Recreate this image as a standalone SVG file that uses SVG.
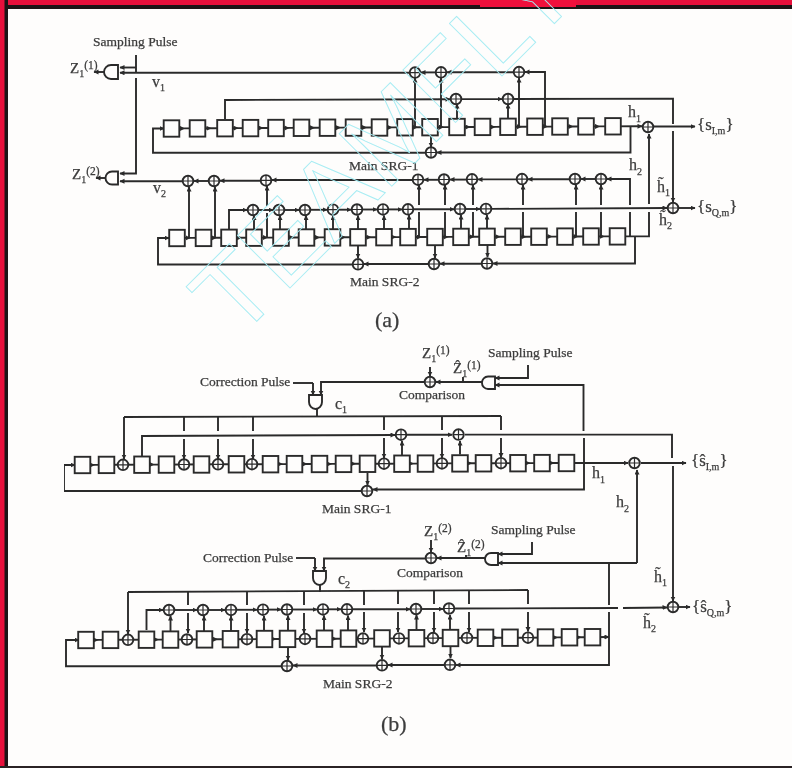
<svg xmlns="http://www.w3.org/2000/svg" width="792" height="768" viewBox="0 0 792 768">
<style>
.l{fill:none;stroke:#2c2c2c;stroke-width:1.9;stroke-linejoin:miter}
.a{marker-end:url(#ah)}
.r{marker-mid:url(#ah);marker-end:url(#ah)}
.b{fill:#fefdfc;stroke:#2c2c2c;stroke-width:1.9}
.t{font-family:"Liberation Serif","Times New Roman",serif;font-size:13.5px;fill:#3c3c3c;stroke:#3c3c3c;stroke-width:.25}
.h{font-size:16px}
.z{font-size:15px}
.o{font-size:17px}
.c{font-size:22px}
.s{font-size:10px}
.p{font-size:11.5px}
.w{font-family:"Liberation Sans",Arial,sans-serif;font-size:108px;fill:none;stroke:#a5ecf3;stroke-width:.9}
</style>
<defs>
<filter id="soft" x="0" y="0" width="100%" height="100%"><feGaussianBlur stdDeviation="0.4"/></filter>
<marker id="ah" markerUnits="userSpaceOnUse" markerWidth="6" markerHeight="6" refX="4.5" refY="2.5" orient="auto"><path d="M0,0L5,2.5L0,5z" fill="#2c2c2c"/></marker>
<rect id="bx" x="-7.8" y="-8.2" width="15.6" height="16.4" class="b"/>
<g id="xr"><circle r="5.3" class="b"/><path d="M-5.3,0H5.3M0,-5.3V5.3" class="l" style="stroke-width:1.2"/></g>
</defs>
<g id="frame">
<rect width="792" height="768" fill="#fefdfc"/>
<rect x="0" y="0" width="792" height="9" fill="#1d1416"/>
<rect x="0" y="0" width="792" height="5" fill="#e8103c"/>
<rect x="480" y="0" width="96" height="7" fill="#f0103c"/>
<rect x="0" y="0" width="8" height="768" fill="#1d1416"/>
<rect x="0" y="0" width="4.500" height="768" fill="#e8103c"/>
<rect x="0" y="766" width="792" height="2" fill="#2a2224"/>
</g>
<g filter="url(#soft)">
<g id="connectors" class="l">
<path class="l" d="M136,55V72"/>
<path class="l a" d="M136,67.500H120"/>
<path class="l a" d="M136,78V173.500H120"/>
<path class="l a" d="M104,72H94"/>
<path class="l a" d="M106,178H96"/>
<path class="l a" d="M545,126V72H525"/>
<path class="l a" d="M513,72.200H447"/>
<path class="l a" d="M435,72.400H421"/>
<path class="l a" d="M409,72.800H120"/>
<path class="l a" d="M415,127V78"/>
<path class="l a" d="M441,126.800V78"/>
<path class="l a" d="M519,126.500V78"/>
<path class="l a" d="M225,119V100L450,99.200"/>
<path class="l a" d="M462,99.100H502"/>
<path class="l" d="M514,99L673,98.600V124"/>
<path class="l a" d="M673,131V202"/>
<path class="l a" d="M457,118V104"/>
<path class="l a" d="M508,118V104"/>
<polyline class="l r" points="171.500,128.500 184.500,128.400 211,128.300 238,128.100 263,128 289,127.900 314.500,127.800 340.500,127.600 366.500,127.500 392,127.400 417.500,127.300 443.500,127.100 470,127 495,126.900 521.500,126.700 547.500,126.600 573,126.500 599.500,126.400 642,126.300"/>
<path class="l a" d="M630.500,127V152.500H437"/>
<path class="l a" d="M425,152.800H153V128.500H164"/>
<path class="l a" d="M431,135V147"/>
<path class="l a" d="M654,126.500H695"/>
<path class="l" d="M630,237V212"/>
<path class="l a" d="M630,205V179H607"/>
<path class="l a" d="M595,179H581"/>
<path class="l a" d="M569,179.200H528"/>
<path class="l a" d="M516,179.400H478"/>
<path class="l a" d="M466,179.600H450"/>
<path class="l a" d="M438,179.800H424"/>
<path class="l a" d="M412,180H272"/>
<path class="l a" d="M260,180.700H220"/>
<path class="l a" d="M208,181H194"/>
<path class="l a" d="M182,181.200H120"/>
<path class="l a" d="M189,238V187"/>
<path class="l a" d="M215,238V187"/>
<path class="l" d="M267,237.700V213"/><path class="l a" d="M267,206V186"/>
<path class="l" d="M419,237V212"/><path class="l a" d="M419,205V185"/>
<path class="l" d="M445,237V212"/><path class="l a" d="M445,205V185"/>
<path class="l" d="M473,237V212"/><path class="l a" d="M473,205V185"/>
<path class="l" d="M523,237V212"/><path class="l a" d="M523,205V185"/>
<path class="l" d="M576,237V212"/><path class="l a" d="M576,205V185"/>
<path class="l" d="M601,237V212"/><path class="l a" d="M601,205V185"/>
<polyline class="l r" points="177,238 190.200,237.900 216.200,237.800 241.500,237.700 267.500,237.600 293.700,237.500 319.500,237.400 345.200,237.300 371,237.200 396,237.100 421.500,237 448,236.900 474,236.800 500,236.700 526,236.700 552,236.600 578,236.500 604.200,236.400 625,236.400"/>
<path class="l" d="M625,236.400H649V212"/>
<path class="l a" d="M649,204V134"/>
<path class="l a" d="M635,236.500V263.500H493"/>
<path class="l a" d="M481,263.700H440"/>
<path class="l a" d="M428,264H364"/>
<path class="l a" d="M352,264.500H158V238H169"/>
<path class="l a" d="M358,246V258"/>
<path class="l a" d="M435,245V258"/>
<path class="l a" d="M487.500,245V257"/>
<path class="l a" d="M229,229V210H247"/>
<path class="l a" d="M259,210H273"/>
<path class="l a" d="M285,210H299"/>
<path class="l a" d="M311,209.800H327"/>
<path class="l a" d="M339,209.700H351"/>
<path class="l a" d="M363,209.500H377"/>
<path class="l a" d="M389,209.400H402"/>
<path class="l a" d="M414,209.300H454"/>
<path class="l a" d="M466,209H480"/>
<path class="l a" d="M492,208.900L667,208"/>
<path class="l a" d="M254,229V215.500"/>
<path class="l a" d="M280,229V215.500"/>
<path class="l a" d="M306,229V215.500"/>
<path class="l a" d="M333,229V215.500"/>
<path class="l a" d="M358,229V215.500"/>
<path class="l a" d="M384,229V215.500"/>
<path class="l a" d="M409,229V215"/>
<path class="l a" d="M461,228V215"/>
<path class="l a" d="M487,228V215"/>
<path class="l a" d="M679,208H695"/>
<path class="l" d="M293,383H313"/><path class="l a" d="M313,383V395"/>
<path class="l a" d="M424,382H321V395"/>
<path class="l a" d="M482,382H436"/>
<path class="l a" d="M430,367V376"/>
<path class="l" d="M463,377V382"/>
<path class="l a" d="M528,365V378H495"/>
<path class="l a" d="M583.500,431V385H495"/>
<path class="l a" d="M584,438V489.500H373"/>
<path class="l a" d="M361,491H64V465H75"/>
<path class="l a" d="M367.500,473V485"/>
<path class="l" d="M317,409V417"/>
<path class="l" d="M124,417L501,416"/>
<path class="l a" d="M124,417V459"/>
<path class="l" d="M184,417V431"/><path class="l a" d="M184,439V459"/>
<path class="l" d="M218,417V431"/><path class="l a" d="M218,439V459"/>
<path class="l" d="M253,417V431"/><path class="l a" d="M253,439V459"/>
<path class="l" d="M384,416.500V430"/><path class="l a" d="M384,438V458"/>
<path class="l" d="M442,416V430"/><path class="l a" d="M442,438V458"/>
<path class="l" d="M501,416V430"/><path class="l a" d="M501,438V457.500"/>
<path class="l a" d="M142,456V436L395,435"/>
<path class="l a" d="M407,434.800H452"/>
<path class="l" d="M465,434.600H672V458"/>
<path class="l a" d="M673,466V601"/>
<path class="l a" d="M402,455V441"/>
<path class="l a" d="M460,454.500V441"/>
<polyline class="l r" points="82,465 94.500,464.900 123,464.800 154,464.600 184,464.500 218,464.300 252,464.200 282.500,464.100 307,464 331.500,463.900 355.500,463.800 384,463.700 413.500,463.600 442,463.400 471.700,463.300 501,463.200 530,463.100 554,463 628,463"/>
<path class="l a" d="M637,563V470"/>
<path class="l a" d="M641,463H686"/>
<path class="l" d="M296,558H315"/><path class="l a" d="M315,558V571"/>
<path class="l a" d="M425,558.500H324V571"/>
<path class="l a" d="M485,558H437"/>
<path class="l a" d="M431,540V552"/>
<path class="l" d="M466,555V558"/>
<path class="l a" d="M532,542V554H498"/>
<path class="l a" d="M637,563H498"/>
<path class="l" d="M609,637V612"/><path class="l" d="M609,605V563"/>
<path class="l a" d="M609,637V665H456"/>
<path class="l a" d="M444,665H388"/>
<path class="l a" d="M376,665.500H293"/>
<path class="l a" d="M281,666.300H66V640H79"/>
<path class="l a" d="M288,646V660"/>
<path class="l a" d="M382,646V659"/>
<path class="l a" d="M450.500,646V658"/>
<path class="l" d="M320,585V592"/>
<path class="l" d="M128,592L528,590"/>
<path class="l a" d="M128,592V634"/>
<path class="l" d="M188,592V605"/><path class="l a" d="M188,613V633"/>
<path class="l" d="M247,591.500V605"/><path class="l a" d="M247,613V633"/>
<path class="l" d="M304,591V605"/><path class="l a" d="M304,613V633"/>
<path class="l" d="M364,591V605"/><path class="l a" d="M364,612V632"/>
<path class="l" d="M398,591V604"/><path class="l a" d="M398,612V632"/>
<path class="l" d="M434,590.500V604"/><path class="l a" d="M434,612V632"/>
<path class="l" d="M469,590.500V604"/><path class="l a" d="M469,612V632"/>
<path class="l" d="M528,590V604"/><path class="l a" d="M528,612V631.500"/>
<path class="l a" d="M146.500,630V610H163"/>
<path class="l a" d="M175,610H197"/>
<path class="l a" d="M209,610H225"/>
<path class="l a" d="M237,609.800H257"/>
<path class="l a" d="M269,609.600H281"/>
<path class="l a" d="M293,609.500H317"/>
<path class="l a" d="M329,609.300H341"/>
<path class="l a" d="M353,609.200H410"/>
<path class="l a" d="M422,609H443"/>
<path class="l" d="M455,608.500L618,608"/>
<path class="l a" d="M623,608L667,607.500"/>
<path class="l a" d="M170.500,631V616"/>
<path class="l a" d="M204,631V616"/>
<path class="l a" d="M231,631V616"/>
<path class="l a" d="M264,631V616"/>
<path class="l a" d="M288,630V615.500"/>
<path class="l a" d="M324,630V615.500"/>
<path class="l a" d="M348,630V615.500"/>
<path class="l a" d="M416.500,629.500V615"/>
<path class="l a" d="M450,629.500V615"/>
<path class="l a" d="M679,607H690"/>
<polyline class="l r" points="86,640 98,639.900 128,639.800 158.500,639.600 187,639.500 217.500,639.300 247,639.200 276,639 305,638.900 336.500,638.700 363,638.600 398,638.400 433,638.100 467,637.900 497.700,637.800 528,637.700 557.500,637.400 581,637.300 609,637"/>
</g>
<g id="gates">
<g id="gate-a1"><path class="b" d="M118,65H111A7,7 0 0 0 111,79H118Z"/></g>
<g id="gate-a2"><path class="b" d="M118,171.500H112A6.500,6.500 0 0 0 112,184.500H118Z"/></g>
<g id="gate-b1"><path class="b" d="M309,395H322V402A6.500,7 0 0 1 309,402Z"/></g>
<g id="gate-b1s"><path class="b" d="M495,376.500H488A6,6.200 0 0 0 488,389H495Z"/></g>
<g id="gate-b2"><path class="b" d="M313,571H326V578A6.500,7 0 0 1 313,578Z"/></g>
<g id="gate-b2s"><path class="b" d="M498,553H491A6,6 0 0 0 491,565H498Z"/></g>
</g>
<g id="srg-a1">
<use href="#bx" x="171.500" y="128.500"/><use href="#bx" x="197.500" y="128.400"/><use href="#bx" x="225" y="128.200"/><use href="#bx" x="250.500" y="128.100"/><use href="#bx" x="276" y="128"/><use href="#bx" x="301.500" y="127.800"/><use href="#bx" x="327.500" y="127.700"/><use href="#bx" x="353.500" y="127.600"/><use href="#bx" x="379.500" y="127.500"/><use href="#bx" x="405" y="127.300"/><use href="#bx" x="430" y="127.200"/><use href="#bx" x="457" y="127"/><use href="#bx" x="482.500" y="126.900"/><use href="#bx" x="508" y="126.800"/><use href="#bx" x="535" y="126.700"/><use href="#bx" x="560" y="126.500"/><use href="#bx" x="586" y="126.400"/><use href="#bx" x="613" y="126.300"/>
</g>
<g id="srg-a2">
<use href="#bx" x="177" y="238"/><use href="#bx" x="203.500" y="237.900"/><use href="#bx" x="229" y="237.800"/><use href="#bx" x="254" y="237.700"/><use href="#bx" x="281" y="237.600"/><use href="#bx" x="306.500" y="237.500"/><use href="#bx" x="332.500" y="237.400"/><use href="#bx" x="358" y="237.300"/><use href="#bx" x="384" y="237.200"/><use href="#bx" x="408" y="237.100"/><use href="#bx" x="435" y="237"/><use href="#bx" x="461" y="236.900"/><use href="#bx" x="487" y="236.800"/><use href="#bx" x="513" y="236.700"/><use href="#bx" x="539" y="236.700"/><use href="#bx" x="565" y="236.600"/><use href="#bx" x="591" y="236.500"/><use href="#bx" x="617.500" y="236.400"/>
</g>
<g id="srg-b1">
<use href="#bx" x="82.500" y="465"/><use href="#bx" x="106.500" y="464.900"/><use href="#bx" x="142" y="464.700"/><use href="#bx" x="166.500" y="464.600"/><use href="#bx" x="201.500" y="464.500"/><use href="#bx" x="236.500" y="464.300"/><use href="#bx" x="270.500" y="464.200"/><use href="#bx" x="294.500" y="464.100"/><use href="#bx" x="319.500" y="464"/><use href="#bx" x="343.500" y="463.900"/><use href="#bx" x="367.500" y="463.800"/><use href="#bx" x="402" y="463.700"/><use href="#bx" x="425.500" y="463.600"/><use href="#bx" x="460" y="463.400"/><use href="#bx" x="483.500" y="463.300"/><use href="#bx" x="518" y="463.200"/><use href="#bx" x="542" y="463.100"/><use href="#bx" x="566.500" y="463"/>
</g>
<g id="srg-b2">
<use href="#bx" x="86" y="640"/><use href="#bx" x="110.500" y="639.900"/><use href="#bx" x="146.500" y="639.700"/><use href="#bx" x="170.500" y="639.600"/><use href="#bx" x="204.500" y="639.400"/><use href="#bx" x="230.500" y="639.200"/><use href="#bx" x="264.500" y="639"/><use href="#bx" x="287.500" y="638.900"/><use href="#bx" x="324.500" y="638.700"/><use href="#bx" x="348.500" y="638.600"/><use href="#bx" x="382" y="638.400"/><use href="#bx" x="416.500" y="638.200"/><use href="#bx" x="450.500" y="638"/><use href="#bx" x="485.500" y="637.800"/><use href="#bx" x="510" y="637.700"/><use href="#bx" x="545.500" y="637.500"/><use href="#bx" x="569.500" y="637.300"/><use href="#bx" x="592.500" y="637.200"/>
</g>
<g id="xors">
<use href="#xr" x="415" y="72.600"/><use href="#xr" x="441" y="72.300"/><use href="#xr" x="519" y="72.100"/><use href="#xr" x="456" y="99"/><use href="#xr" x="508" y="99"/><use href="#xr" x="431" y="152.500"/><use href="#xr" x="648" y="127"/><use href="#xr" x="673" y="208"/>
<use href="#xr" x="188" y="181"/><use href="#xr" x="214" y="181"/><use href="#xr" x="266" y="180.400"/><use href="#xr" x="418" y="179.700"/><use href="#xr" x="444" y="179.500"/><use href="#xr" x="472" y="179.300"/><use href="#xr" x="522" y="179.100"/><use href="#xr" x="575" y="179"/><use href="#xr" x="601" y="179"/>
<use href="#xr" x="253" y="210"/><use href="#xr" x="279" y="210"/><use href="#xr" x="305" y="210"/><use href="#xr" x="333" y="209.700"/><use href="#xr" x="357" y="209.500"/><use href="#xr" x="383" y="209.400"/><use href="#xr" x="408" y="209.300"/><use href="#xr" x="460" y="209"/><use href="#xr" x="486" y="208.900"/>
<use href="#xr" x="358" y="264.300"/><use href="#xr" x="434" y="264"/><use href="#xr" x="487" y="263.500"/>
<use href="#xr" x="430" y="382"/><use href="#xr" x="431" y="558"/>
<use href="#xr" x="123" y="464.800"/><use href="#xr" x="184" y="464.500"/><use href="#xr" x="218" y="464.300"/><use href="#xr" x="252" y="464.200"/><use href="#xr" x="384" y="463.700"/><use href="#xr" x="442" y="463.400"/><use href="#xr" x="501" y="463.200"/>
<use href="#xr" x="401" y="434.700"/><use href="#xr" x="458.500" y="434.600"/><use href="#xr" x="367" y="491"/><use href="#xr" x="634.500" y="463"/><use href="#xr" x="673" y="607"/>
<use href="#xr" x="128" y="639.800"/><use href="#xr" x="187" y="639.500"/><use href="#xr" x="247" y="639.200"/><use href="#xr" x="305" y="638.900"/><use href="#xr" x="363" y="638.600"/><use href="#xr" x="399" y="638.400"/><use href="#xr" x="433" y="638.100"/><use href="#xr" x="467" y="637.900"/><use href="#xr" x="528" y="637.700"/>
<use href="#xr" x="169" y="610"/><use href="#xr" x="203" y="610"/><use href="#xr" x="231" y="609.900"/><use href="#xr" x="263" y="609.700"/><use href="#xr" x="287" y="609.500"/><use href="#xr" x="323" y="609.400"/><use href="#xr" x="347" y="609.300"/><use href="#xr" x="416" y="609"/><use href="#xr" x="449" y="608.500"/>
<use href="#xr" x="287" y="666"/><use href="#xr" x="382" y="665.300"/><use href="#xr" x="450" y="664.800"/>
</g>
<g id="labels">
<text class="t" x="93" y="46">Sampling Pulse</text>
<text class="t z" x="70" y="73">Z<tspan class="s" dy="4">1</tspan><tspan class="p" dy="-8">(1)</tspan></text>
<text class="t z" x="72" y="179">Z<tspan class="s" dy="4">1</tspan><tspan class="p" dy="-8">(2)</tspan></text>
<text class="t h" x="152" y="87">v<tspan class="s" dy="4">1</tspan></text>
<text class="t h" x="153" y="193">v<tspan class="s" dy="4">2</tspan></text>
<text class="t" x="349" y="170">Main SRG-1</text>
<text class="t" x="350" y="286">Main SRG-2</text>
<text class="t c" x="375" y="327">(a)</text>
<text class="t h" x="628" y="117">h<tspan class="s" dy="5">1</tspan></text>
<text class="t h" x="629" y="170">h<tspan class="s" dy="5">2</tspan></text>
<text class="t h" x="657" y="192">h̃<tspan class="s" dy="4">1</tspan></text>
<text class="t h" x="659" y="225">h̃<tspan class="s" dy="4">2</tspan></text>
<text class="t o" x="697" y="130">{s<tspan class="s" dy="4">I,m</tspan><tspan dy="-4">}</tspan></text>
<text class="t o" x="697" y="212">{s<tspan class="s" dy="4">Q,m</tspan><tspan dy="-4">}</tspan></text>
<text class="t" x="200" y="386">Correction Pulse</text>
<text class="t" x="488" y="357">Sampling Pulse</text>
<text class="t z" x="422" y="358">Z<tspan class="s" dy="4">1</tspan><tspan class="p" dy="-8">(1)</tspan></text>
<text class="t z" x="453" y="373">Ẑ<tspan class="s" dy="4">1</tspan><tspan class="p" dy="-8">(1)</tspan></text>
<text class="t" x="399" y="399">Comparison</text>
<text class="t h" x="335" y="409">c<tspan class="s" dy="4">1</tspan></text>
<text class="t" x="322" y="513">Main SRG-1</text>
<text class="t h" x="592" y="478">h<tspan class="s" dy="5">1</tspan></text>
<text class="t h" x="616" y="507">h<tspan class="s" dy="5">2</tspan></text>
<text class="t o" x="691" y="466">{ŝ<tspan class="s" dy="4">I,m</tspan><tspan dy="-4">}</tspan></text>
<text class="t" x="203" y="562">Correction Pulse</text>
<text class="t" x="491" y="534">Sampling Pulse</text>
<text class="t z" x="424" y="536">Z<tspan class="s" dy="4">1</tspan><tspan class="p" dy="-8">(2)</tspan></text>
<text class="t z" x="457" y="552">Ẑ<tspan class="s" dy="4">1</tspan><tspan class="p" dy="-8">(2)</tspan></text>
<text class="t" x="397" y="577">Comparison</text>
<text class="t h" x="338" y="584">c<tspan class="s" dy="4">2</tspan></text>
<text class="t" x="323" y="688">Main SRG-2</text>
<text class="t h" x="654" y="582">h̃<tspan class="s" dy="4">1</tspan></text>
<text class="t h" x="643" y="628">h̃<tspan class="s" dy="4">2</tspan></text>
<text class="t o" x="692" y="612">{ŝ<tspan class="s" dy="4">Q,m</tspan><tspan dy="-4">}</tspan></text>
<text class="t c" x="381" y="731">(b)</text>
</g>
</g>
<text class="w" transform="translate(237 341) rotate(-45)">TEAMFLY</text>
</svg>
